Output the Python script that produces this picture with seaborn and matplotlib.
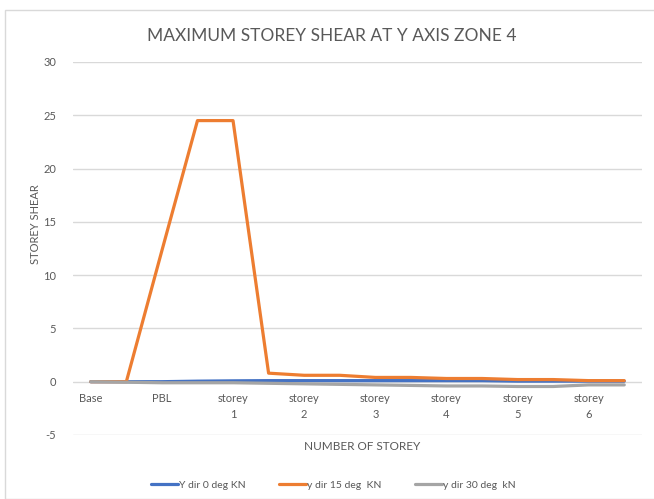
import pandas as pd
import numpy as np
import matplotlib.pyplot as plt
import seaborn as sns
from matplotlib.patches import Rectangle
from matplotlib.lines import Line2D

# Category labels (Excel only shows every other one)
storey_labels = ["Base", "", "PBL", "", "storey\n1", "", "storey\n2", "",
                 "storey\n3", "", "storey\n4", "", "storey\n5", "", "storey\n6", ""]

# Values
y_dir_0 = [0, 0, 0, 0.05, 0.08, 0.1, 0.1, 0.1, 0.1, 0.1, 0.1, 0.1, 0.05, 0.05, 0.05, 0.05]
y_dir_15 = [0, 0, 12.3, 24.5, 24.5, 0.8, 0.6, 0.6, 0.4, 0.4, 0.3, 0.3, 0.2, 0.2, 0.1, 0.1]
y_dir_30 = [0, -0.05, -0.1, -0.1, -0.1, -0.15, -0.2, -0.25, -0.3, -0.35, -0.4, -0.4,
            -0.45, -0.45, -0.3, -0.3]

series_names = ["Y dir 0 deg KN", "y dir 15 deg  KN", "y dir 30 deg  kN"]
colors = ["#4472C4", "#ED7D31", "#A5A5A5"]

idx = np.arange(len(storey_labels))
df = pd.concat([
    pd.DataFrame({"pos": idx, "shear": vals, "series": name})
    for name, vals in zip(series_names, [y_dir_0, y_dir_15, y_dir_30])
])

sns.set_theme(style="white")
plt.rcParams['font.family'] = ['Lato', 'DejaVu Sans']
plt.rcParams['axes.unicode_minus'] = False
text_col = "#595959"

fig = plt.figure(figsize=(6.54, 4.99), dpi=100)
ax = fig.add_axes([0.1116, 0.1283, 0.8701, 0.7475])

# chart border
fig.patches.append(Rectangle((5 / 654, 0), 1, 1 - 10 / 499, transform=fig.transFigure,
                             fill=False, edgecolor="#D9D9D9", linewidth=1))

sns.lineplot(data=df, x="pos", y="shear", hue="series", palette=colors,
             linewidth=2.3, ax=ax, legend=False)

ax.set_xlim(-0.5, 15.5)
ax.set_ylim(-5, 30)
ax.set_yticks(range(-5, 31, 5))
ax.yaxis.grid(True, color="#D9D9D9", linewidth=1)
ax.set_axisbelow(True)
for s in ax.spines.values():
    s.set_visible(False)

ax.spines['bottom'].set_position(('data', 0))
ax.set_xticks(idx)
ax.set_xticklabels(storey_labels, color=text_col, fontsize=8, linespacing=1.6)
ax.tick_params(axis='x', length=0, pad=8)
ax.tick_params(axis='y', length=0, pad=12, labelcolor=text_col, labelsize=8)

ax.set_xlabel("")
ax.set_ylabel("")
fig.text(0.055, 0.55, "STOREY SHEAR", rotation=90, ha="center", va="center",
         color=text_col, fontsize=8)
fig.text(0.553, 1 - 446 / 499, "NUMBER OF STOREY", ha="center", va="center",
         color=text_col, fontsize=8.5)
fig.text(0.508, 1 - 36 / 499, "MAXIMUM STOREY SHEAR AT Y AXIS ZONE 4", ha="center",
         va="center", color=text_col, fontsize=12.5)

handles = [Line2D([0], [0], color=c, linewidth=2.3) for c in colors]
fig.legend(handles, series_names, loc="center", bbox_to_anchor=(0.51, 1 - 485 / 499),
           ncol=3, frameon=False, fontsize=7.5, handlelength=2.6, handletextpad=0.1,
           columnspacing=3.2, labelcolor=text_col)

fig.savefig("out.png", dpi=100)
